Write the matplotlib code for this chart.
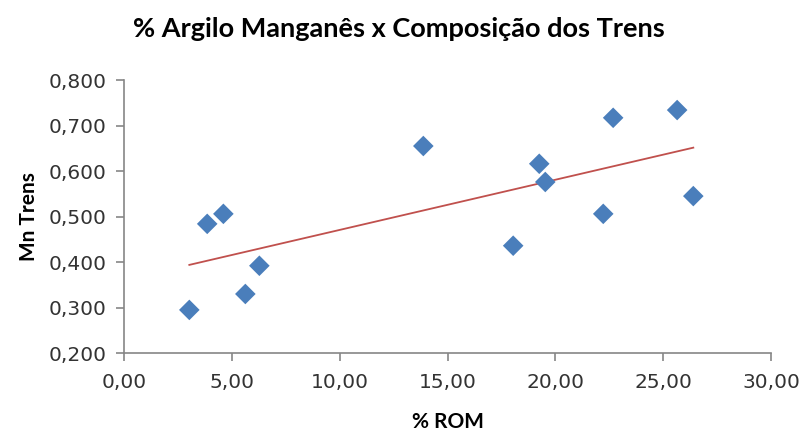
import numpy as np
import matplotlib.pyplot as plt
from matplotlib.ticker import FuncFormatter

# % ROM (argilo manganês) vs teor de Mn nos trens
rom_pct = [3.01, 3.84, 4.59, 5.61, 6.26, 13.87, 18.04, 19.25, 19.53, 22.22, 22.68, 25.65, 26.40]
mn_trens = [0.295, 0.484, 0.506, 0.330, 0.392, 0.655, 0.436, 0.616, 0.576, 0.506, 0.717, 0.734, 0.545]

title = "% Argilo Manganês x Composição dos Trens"
x_label = "% ROM"
y_label = "Mn Trens"

x = np.array(rom_pct)
y = np.array(mn_trens)

# Linear trend line across the data range
slope, intercept = np.polyfit(x, y, 1)
x_reg = np.array([x.min(), x.max()])
y_reg = slope * x_reg + intercept

axis_gray = '#868686'

fig = plt.figure(figsize=(8.03, 4.36), dpi=100)
ax = fig.add_axes([0.155, 0.19, 0.805, 0.6265])

ax.plot(x_reg, y_reg, color='#C0504D', linewidth=1.3, zorder=2)
ax.scatter(x, y, marker='D', s=110, color='#4A7EBB', edgecolor='none', zorder=3)

ax.set_xlim(0, 30)
ax.set_ylim(0.2, 0.8)
ax.set_xticks(np.arange(0, 31, 5))
ax.set_yticks(np.arange(0.2, 0.81, 0.1))
ax.xaxis.set_major_formatter(FuncFormatter(lambda v, _: f"{v:.2f}".replace('.', ',')))
ax.yaxis.set_major_formatter(FuncFormatter(lambda v, _: f"{v:.3f}".replace('.', ',')))

for side in ['top', 'right']:
    ax.spines[side].set_visible(False)
for side in ['left', 'bottom']:
    ax.spines[side].set_color(axis_gray)
    ax.spines[side].set_linewidth(1.2)

ax.tick_params(axis='both', direction='out', length=6, width=1.2, color=axis_gray,
               labelsize=14.5, labelcolor='#333333')
ax.tick_params(axis='y', pad=7)
ax.tick_params(axis='x', pad=8)

fig.suptitle(title, x=0.497, y=0.96, fontsize=19.5, fontweight='bold', family='Lato')
ax.set_xlabel(x_label, fontsize=15, fontweight='bold', family='Lato', labelpad=15)
ax.set_ylabel(y_label, fontsize=15, fontweight='bold', family='Lato', labelpad=7)

fig.savefig('out.png', dpi=100)
